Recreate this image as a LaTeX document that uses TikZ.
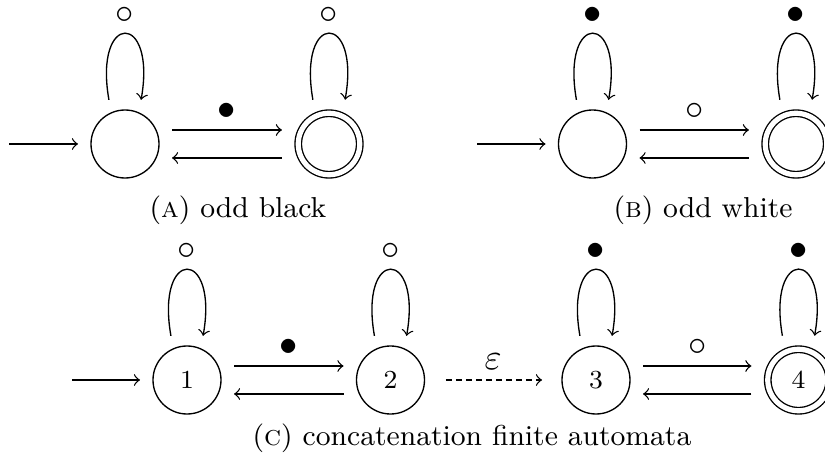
\documentclass[tikz,border=0pt]{standalone}
\usepackage{fontspec}
\begin{document}
\begin{tikzpicture}[x=0.3pt,y=-0.3pt,line width=0.4pt,
  font=\fontsize{9}{11}\selectfont,
  state/.style={circle,draw,minimum size=20.4pt,inner sep=0pt,outer sep=3.9pt,
    font=\fontsize{7.8}{9}\selectfont},
  accept/.style={state,double,double distance=1.55pt,minimum size=18.45pt,outer sep=4.9pt},
  trans/.style={->},
  eps/.style={->,dash pattern=on 1.7pt off 1.3pt,shorten <=2.5pt,shorten >=2.1pt},
  lbl/.style={above=2pt,inner sep=0.8pt,font=\fontsize{10.5}{12}\selectfont},
  captext/.style={anchor=base,font=\fontsize{8.65}{10.5}\selectfont}
]
\useasboundingbox (0,0) rectangle (825,464);

% ---------- (A) odd black ----------
\node[state]  (A1) at (125,144) {};
\node[accept] (A2) at (329,144) {};
\coordinate (A0) at (9,144);
\draw[trans] (A0) -- (A1);
\draw[trans] (A1.110) .. controls +(100:27pt) and +(80:27pt) .. (A1.70) node[pos=0.5,lbl] {$\circ$};
\draw[trans] (A2.110) .. controls +(100:27pt) and +(80:27pt) .. (A2.70) node[pos=0.5,lbl] {$\circ$};
\draw[trans] ([yshift=4.2pt]A1.east) -- node[lbl] {$\bullet$} ([yshift=4.2pt]A2.west);
\draw[trans] ([yshift=-4.2pt]A2.west) -- ([yshift=-4.2pt]A1.east);
\node[captext] (capA) at (238,218) {(\textsc{a}) odd black};

% ---------- (B) odd white ----------
\node[state]  (B1) at (592.5,144) {};
\node[accept] (B2) at (796,144) {};
\coordinate (B0) at (477,144);
\draw[trans] (B0) -- (B1);
\draw[trans] (B1.110) .. controls +(100:27pt) and +(80:27pt) .. (B1.70) node[pos=0.5,lbl] {$\bullet$};
\draw[trans] (B2.110) .. controls +(100:27pt) and +(80:27pt) .. (B2.70) node[pos=0.5,lbl] {$\bullet$};
\draw[trans] ([yshift=4.2pt]B1.east) -- node[lbl] {$\circ$} ([yshift=4.2pt]B2.west);
\draw[trans] ([yshift=-4.2pt]B2.west) -- ([yshift=-4.2pt]B1.east);
\node[captext] (capB) at (703,218) {(\textsc{b}) odd white};

% ---------- (C) concatenation ----------
\node[state]  (C1) at (187,380) {1};
\node[state]  (C2) at (390.5,380) {2};
\node[state]  (C3) at (596,380) {3};
\node[accept] (C4) at (798.5,380) {4};
\coordinate (C0) at (72,380);
\draw[trans] (C0) -- (C1);
\draw[trans] (C1.110) .. controls +(100:27pt) and +(80:27pt) .. (C1.70) node[pos=0.5,lbl] {$\circ$};
\draw[trans] (C2.110) .. controls +(100:27pt) and +(80:27pt) .. (C2.70) node[pos=0.5,lbl] {$\circ$};
\draw[trans] (C3.110) .. controls +(100:27pt) and +(80:27pt) .. (C3.70) node[pos=0.5,lbl] {$\bullet$};
\draw[trans] (C4.110) .. controls +(100:27pt) and +(80:27pt) .. (C4.70) node[pos=0.5,lbl] {$\bullet$};
\draw[trans] ([yshift=4.2pt]C1.east) -- node[lbl] {$\bullet$} ([yshift=4.2pt]C2.west);
\draw[trans] ([yshift=-4.2pt]C2.west) -- ([yshift=-4.2pt]C1.east);
\draw[eps] (C2) -- node[lbl] {$\varepsilon$} (C3);
\draw[trans] ([yshift=4.2pt]C3.east) -- node[lbl] {$\circ$} ([yshift=4.2pt]C4.west);
\draw[trans] ([yshift=-4.2pt]C4.west) -- ([yshift=-4.2pt]C3.east);
\node[captext] (capC) at (472,446) {(\textsc{c}) concatenation finite automata};
\end{tikzpicture}
\end{document}
